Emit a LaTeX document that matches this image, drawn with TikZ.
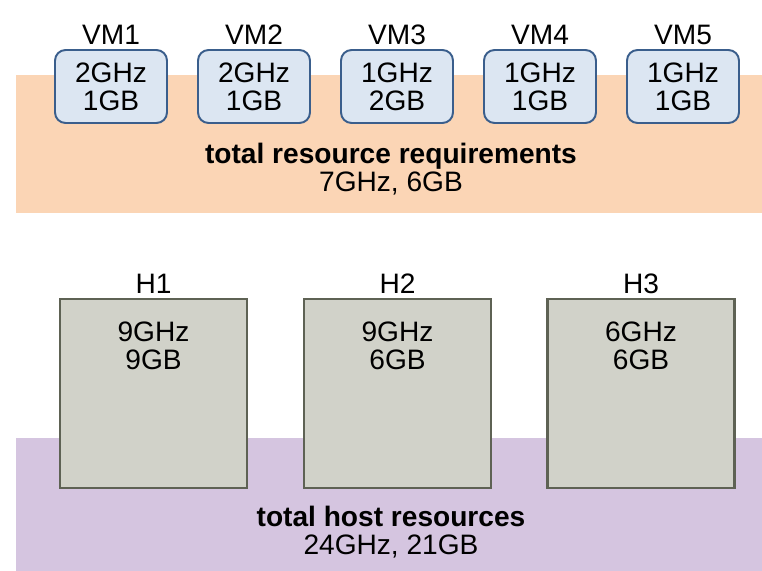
\documentclass[tikz,border=0pt]{standalone}
\usepackage{fontspec}
\setmainfont{Liberation Sans}
\usetikzlibrary{positioning}

\definecolor{reqfill}{HTML}{FBD5B5}
\definecolor{hostfill}{HTML}{D5C5E0}
\definecolor{vmfill}{HTML}{DCE6F2}
\definecolor{vmline}{HTML}{3A5E8C}
\definecolor{boxfill}{HTML}{D1D2C9}
\definecolor{boxline}{HTML}{5E6254}

\tikzset{
  every node/.style={font=\fontsize{16}{16}\selectfont},
  band/.style={draw=none, inner sep=0pt, minimum width=14.92cm, anchor=north west},
  vm/.style={draw=vmline, fill=vmfill, line width=1.1pt, rounded corners=6pt,
    minimum width=2.24cm, minimum height=1.46cm, inner sep=0pt, align=center},
  host/.style={draw=boxline, fill=boxfill, line width=1.2pt,
    minimum width=3.74cm, minimum height=3.78cm, inner sep=0pt},
}

\begin{document}
\begin{tikzpicture}[x=0.02cm, y=-0.02cm]
  \useasboundingbox (0,0) rectangle (762,571);
  % background bands
  \node[band, fill=reqfill, minimum height=2.76cm] (reqband) at (16,75) {};
  \node[band, fill=hostfill, minimum height=2.66cm] (hostband) at (16,438) {};
  % virtual machines
  \foreach \n/\x/\cpu/\mem in {1/111/2/1, 2/254/2/1, 3/397/1/2, 4/540/1/1, 5/683/1/1}
    \node[vm, label={[label distance=-1pt]above:VM\n}] (vm\n) at (\x,86.5) {\cpu GHz\\\mem GB};
  \node[align=center] (reqtext) at (391,169) {\textbf{total resource requirements}\\7GHz, 6GB};
  % hosts
  \foreach \n/\x/\cpu/\mem in {1/153.5/9/9, 2/397.5/9/6, 3/641/6/6} {
    \node[host, label={[label distance=-1pt]above:H\n}] (h\n) at (\x,393.5) {};
    \node[align=center, below=10pt of h\n.north] (hres\n) {\cpu GHz\\\mem GB};
  }
  \node[align=center] (hosttext) at (391,532) {\textbf{total host resources}\\24GHz, 21GB};
\end{tikzpicture}
\end{document}
